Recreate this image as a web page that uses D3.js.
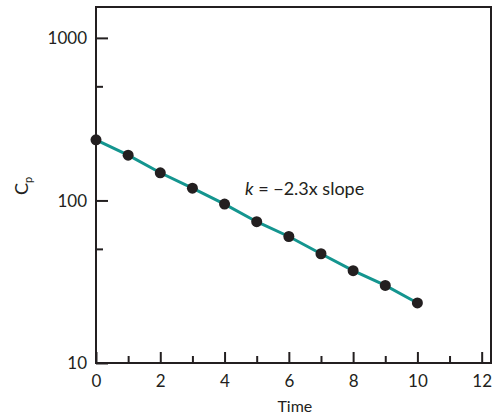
<!DOCTYPE html>
<html>
<head>
<meta charset="utf-8">
<script src="https://cdn.jsdelivr.net/npm/d3@7"></script>
<style>
  html, body { margin: 0; padding: 0; background: #fff; }
  svg { display: block; }
  text { font-family: Lato, "Open Sans", sans-serif; fill: #231f20; }
</style>
</head>
<body>
<svg id="chart" width="495" height="417"></svg>
<script>
// Data
const times = [0, 1, 2, 3, 4, 5, 6, 7, 8, 9, 10];
const cpValues = [236, 190, 148, 119, 95, 74, 60, 47, 37, 30, 23.4];
const xTickValues = [0, 1, 2, 3, 4, 5, 6, 7, 8, 9, 10, 11, 12];
const xTickLabels = ["0", "", "2", "", "4", "", "6", "", "8", "", "10", "", "12"];
const yMajorTicks = [10, 100, 1000];
const yMinorTicks = [50, 500];
const yTickLabels = ["10", "100", "1000"];

(function () {
const svg = d3.select("#chart");
const mLeft = 96, mRight = 491, mTop = 7, mBottom = 363;
const ink = "#231f20";

const x = d3.scaleLinear().domain([0, 12.29]).range([mLeft, mRight]);
const y = d3.scaleLog().domain([10, Math.pow(10, 3.19)]).range([mBottom, mTop]);

// Frame
svg.append("rect")
  .attr("x", mLeft).attr("y", mTop)
  .attr("width", mRight - mLeft).attr("height", mBottom - mTop)
  .attr("fill", "none").attr("stroke", ink).attr("stroke-width", 2);

// X axis ticks (inward) and labels
const xAxis = d3.axisBottom(x)
  .tickValues(xTickValues)
  .tickSize(0)
  .tickFormat((d, i) => xTickLabels[i]);
const gx = svg.append("g").attr("transform", `translate(0,${mBottom})`).call(xAxis);
gx.select(".domain").remove();
gx.selectAll("text").attr("dy", 0).attr("y", 24)
  .style("font-size", "17px").style("font-family", "Lato, sans-serif").attr("fill", ink);
gx.selectAll(".tick").append("line")
  .attr("x1", 0).attr("x2", 0).attr("y1", 0)
  .attr("y2", (d, i) => xTickLabels[i] === "" ? -7 : -11)
  .attr("stroke", ink).attr("stroke-width", 2);

// Y axis
const yAxis = d3.axisLeft(y)
  .tickValues(yMajorTicks)
  .tickSize(0)
  .tickFormat((d, i) => yTickLabels[i]);
const gy = svg.append("g").attr("transform", `translate(${mLeft},0)`).call(yAxis);
gy.select(".domain").remove();
gy.selectAll("text").attr("x", -9).attr("dy", "0.35em")
  .style("font-size", "17px").style("font-family", "Lato, sans-serif").attr("fill", ink);
gy.selectAll(".tick").append("line")
  .attr("x1", 0).attr("x2", 12).attr("y1", 0).attr("y2", 0)
  .attr("stroke", ink).attr("stroke-width", 2);
svg.append("g").selectAll("line").data(yMinorTicks).join("line")
  .attr("x1", mLeft).attr("x2", mLeft + 7)
  .attr("y1", d => y(d)).attr("y2", d => y(d))
  .attr("stroke", ink).attr("stroke-width", 2);

// Axis titles
svg.append("text")
  .attr("x", (x(0) + x(12)) / 2 + 6).attr("y", 412)
  .attr("text-anchor", "middle")
  .style("font-size", "16px")
  .text("Time");

const yl = svg.append("text")
  .attr("transform", "translate(28,186) rotate(-90)")
  .attr("text-anchor", "middle")
  .style("font-size", "18px");
yl.append("tspan").text("C");
yl.append("tspan").attr("dy", 4).style("font-size", "11px").text("p");

// Line and points
const data = times.map((t, i) => ({ t, v: cpValues[i] }));
const line = d3.line().x(d => x(d.t)).y(d => y(d.v));
svg.append("path").datum(data)
  .attr("d", line)
  .attr("fill", "none")
  .attr("stroke", "#14958f")
  .attr("stroke-width", 3);
svg.append("g").selectAll("circle").data(data).join("circle")
  .attr("cx", d => x(d.t)).attr("cy", d => y(d.v))
  .attr("r", 5.5).attr("fill", ink);

// Annotation
const ann = svg.append("text")
  .attr("x", 245).attr("y", 195)
  .style("font-size", "18px");
ann.append("tspan").style("font-style", "italic").text("k");
ann.append("tspan").text(" = \u22122.3x slope");
})();
</script>
</body>
</html>
